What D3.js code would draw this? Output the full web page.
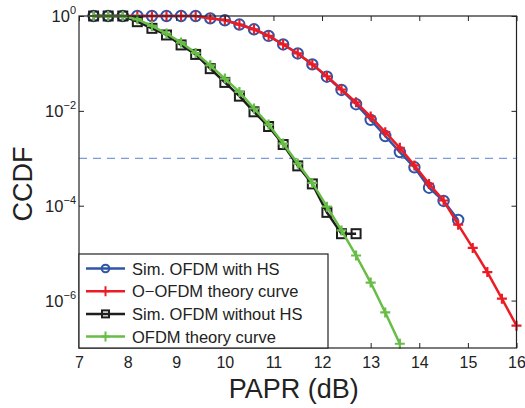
<!DOCTYPE html>
<html>
<head>
<meta charset="utf-8">
<script src="https://cdn.jsdelivr.net/npm/d3@7"></script>
<style>
  body { margin: 0; background: #fff; }
  svg { font-family: "Liberation Sans", Arial, sans-serif; }
</style>
</head>
<body>
<svg id="chart" width="525" height="408"></svg>
<script>
// PAPR grid (dB) for each series
var xHS = d3.range(0, 26).map(function (i) { return +(7.3 + i * 0.3).toFixed(1); });   // 7.3 .. 14.8
var xOO = d3.range(0, 30).map(function (i) { return +(7.3 + i * 0.3).toFixed(1); });   // 7.3 .. 16.0
var xNoHS = d3.range(0, 19).map(function (i) { return +(7.3 + i * 0.3).toFixed(1); }); // 7.3 .. 12.7
var xOFDM = d3.range(0, 22).map(function (i) { return +(7.3 + i * 0.3).toFixed(1); }); // 7.3 .. 13.6

// log10(CCDF)
var simHS = [0, 0, 0, 0, 0, 0, 0, 0, -0.05, -0.09, -0.18, -0.28, -0.42, -0.60, -0.79,
  -1.02, -1.28, -1.56, -1.86, -2.19, -2.53, -2.87, -3.19, -3.62, -3.90, -4.30];
var ooTheory = [0, 0, 0, 0, 0, 0, 0, 0, -0.05, -0.085, -0.18, -0.28, -0.42, -0.60, -0.79,
  -1.02, -1.27, -1.55, -1.82, -2.12, -2.45, -2.78, -3.15, -3.54, -3.89, -4.40, -4.89,
  -5.40, -5.96, -6.53];
var simNoHS = [0, 0, 0, -0.12, -0.26, -0.40, -0.61, -0.81, -1.11, -1.40, -1.69, -2.02,
  -2.33, -2.71, -3.16, -3.54, -4.14, -4.59, -4.59];
var ofdmTheory = [0, 0, 0, -0.07, -0.21, -0.37, -0.56, -0.78, -1.04, -1.32, -1.60, -1.95,
  -2.29, -2.69, -3.11, -3.52, -4.02, -4.52, -5.05, -5.62, -6.25, -6.91];

var xTicks = [7, 8, 9, 10, 11, 12, 13, 14, 15, 16];
var yTicks = [0, -2, -4, -6];
var threshold = 1e-3;

var series = [
  { name: 'Sim. OFDM with HS', x: xHS, y: simHS, color: '#2f55a8', marker: 'circle' },
  { name: 'O\u2212OFDM theory curve', x: xOO, y: ooTheory, color: '#ec1c24', marker: 'plus' },
  { name: 'Sim. OFDM without HS', x: xNoHS, y: simNoHS, color: '#1e1e1e', marker: 'square' },
  { name: 'OFDM theory curve', x: xOFDM, y: ofdmTheory, color: '#67bd45', marker: 'plus' }
];

var margin = { left: 79, top: 16, right: 8.5, bottom: 60 };
var width = 525 - margin.left - margin.right,
    height = 408 - margin.top - margin.bottom;

var svg = d3.select('#chart');
var g = svg.append('g').attr('transform', 'translate(' + margin.left + ',' + margin.top + ')');

var x = d3.scaleLinear().domain([7, 16]).range([0, width]);
var y = d3.scaleLog().domain([1e-7, 1]).range([height, 0]);

// threshold line
g.append('line')
  .attr('x1', 0).attr('x2', width)
  .attr('y1', y(threshold)).attr('y2', y(threshold))
  .attr('stroke', '#7f9bd6').attr('stroke-width', 1.3)
  .attr('stroke-dasharray', '8,6');

// curves
var line = d3.line()
  .x(function (d) { return x(d[0]); })
  .y(function (d) { return y(Math.pow(10, d[1])); });

function drawMarker(sel, type, color) {
  if (type === 'circle') {
    sel.append('circle').attr('r', 5.2).attr('fill', 'none')
      .attr('stroke', color).attr('stroke-width', 2);
  } else if (type === 'square') {
    sel.append('rect').attr('x', -4.5).attr('y', -4.5).attr('width', 9).attr('height', 9)
      .attr('fill', 'none').attr('stroke', color).attr('stroke-width', 2);
  } else {
    sel.append('path').attr('d', 'M-5,0H5M0,-5V5')
      .attr('stroke', color).attr('stroke-width', 2.2);
  }
}

series.forEach(function (s) {
  var pts = s.x.map(function (v, i) { return [v, s.y[i]]; });
  g.append('path').datum(pts)
    .attr('d', line)
    .attr('fill', 'none')
    .attr('stroke', s.color)
    .attr('stroke-width', 2.5);
  g.selectAll(null).data(pts).enter().append('g')
    .attr('transform', function (d) { return 'translate(' + x(d[0]) + ',' + y(Math.pow(10, d[1])) + ')'; })
    .each(function () { drawMarker(d3.select(this), s.marker, s.color); });
});

// axes box and ticks (ticks inward, on all four sides)
var tickLen = 5;
var bottomAxis = d3.axisBottom(x).tickValues(xTicks).tickSize(-tickLen).tickPadding(9);
var topAxis = d3.axisTop(x).tickValues(xTicks).tickSize(-tickLen).tickFormat('');
var yVals = yTicks.map(function (p) { return Math.pow(10, p); });
var leftAxis = d3.axisLeft(y).tickValues(yVals).tickSize(-tickLen).tickFormat('');
var rightAxis = d3.axisRight(y).tickValues(yVals).tickSize(-tickLen).tickFormat('');

function styleAxis(sel) {
  sel.select('.domain').remove();
  sel.selectAll('line').attr('stroke', '#222');
}

g.append('g').attr('transform', 'translate(0,' + height + ')').call(bottomAxis).call(styleAxis)
  .selectAll('text').attr('font-size', 16).attr('fill', '#222')
  .attr('font-family', '"Liberation Sans", Arial, sans-serif');
g.append('g').call(topAxis).call(styleAxis);
g.append('g').call(leftAxis).call(styleAxis);
g.append('g').attr('transform', 'translate(' + width + ',0)').call(rightAxis).call(styleAxis);

g.append('rect').attr('width', width).attr('height', height)
  .attr('fill', 'none').attr('stroke', '#222').attr('stroke-width', 1.2);

// y tick labels 10^n
var yl = g.selectAll('.ylab').data(yTicks).enter().append('text')
  .attr('class', 'ylab')
  .attr('x', -3)
  .attr('y', function (p) { return y(Math.pow(10, p)) + 6; })
  .attr('text-anchor', 'end')
  .attr('fill', '#222');
yl.append('tspan').attr('font-size', 16.5).text('10');
yl.append('tspan').attr('font-size', 11).attr('dy', -8)
  .text(function (p) { return p === 0 ? '0' : '\u2212' + (-p); });

// legend
var legend = g.append('g').attr('transform', 'translate(0,' + (height - 94) + ')');
legend.append('rect').attr('width', 249).attr('height', 94)
  .attr('fill', '#fff').attr('stroke', '#222').attr('stroke-width', 1.2);
series.forEach(function (s, i) {
  var row = legend.append('g').attr('transform', 'translate(0,' + (14.5 + i * 22.7) + ')');
  row.append('line').attr('x1', 7).attr('x2', 46)
    .attr('stroke', s.color).attr('stroke-width', 2.5);
  var m = row.append('g').attr('transform', 'translate(26.5,0)');
  if (s.marker === 'circle') {
    m.append('circle').attr('r', 3.8).attr('fill', 'none').attr('stroke', s.color).attr('stroke-width', 2);
  } else if (s.marker === 'square') {
    m.append('rect').attr('x', -3.5).attr('y', -3.5).attr('width', 7).attr('height', 7)
      .attr('fill', 'none').attr('stroke', s.color).attr('stroke-width', 2);
  } else {
    m.append('path').attr('d', 'M-4,0H4M0,-5V5').attr('stroke', s.color).attr('stroke-width', 2);
  }
  row.append('text').attr('x', 53).attr('y', 6)
    .attr('font-size', 16.5).attr('fill', '#222').text(s.name);
});

// axis titles
svg.append('text')
  .attr('x', margin.left + width / 2 - 4).attr('y', 398)
  .attr('text-anchor', 'middle').attr('font-size', 27).attr('fill', '#222')
  .text('PAPR (dB)');
svg.append('text')
  .attr('transform', 'translate(32,' + (margin.top + height / 2 + 2) + ') rotate(-90)')
  .attr('text-anchor', 'middle').attr('font-size', 27).attr('fill', '#222')
  .text('CCDF');
</script>
</body>
</html>
